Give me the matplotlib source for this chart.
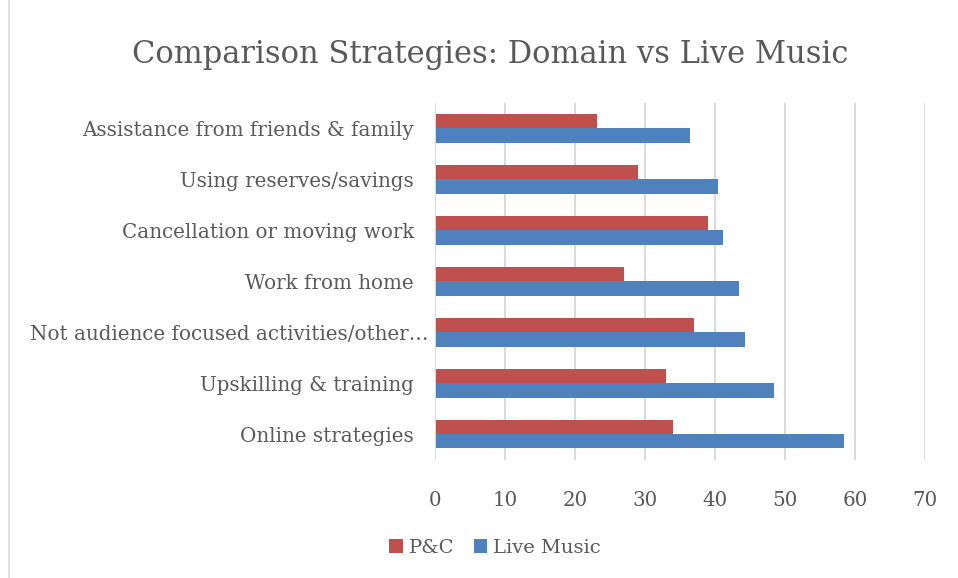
import numpy as np
import matplotlib
matplotlib.use("Agg")
import matplotlib.pyplot as plt
import matplotlib.transforms as mtransforms
from matplotlib.lines import Line2D

categories = [
    "Assistance from friends & family",
    "Using reserves/savings",
    "Cancellation or moving work",
    "Work from home",
    "Not audience focused activities/other\u2026",
    "Upskilling & training",
    "Online strategies",
]
pc_values = [23.1, 29.0, 39.0, 27.0, 37.0, 33.0, 34.0]
live_values = [36.45, 40.45, 41.2, 43.45, 44.3, 48.45, 58.45]
xticks = [0, 10, 20, 30, 40, 50, 60, 70]

text_color = "#595959"
plt.rcParams["font.family"] = ["DejaVu Serif"]

fig = plt.figure(figsize=(9.58, 5.78), dpi=100)
ax = fig.add_axes([0.4538, 0.2042, 0.9656 - 0.4538, 0.8218 - 0.2042])

y = np.arange(len(categories))
h = 0.275
ax.barh(y - h / 2, pc_values, height=h, color="#C0504D", label="P&C", zorder=3)
ax.barh(y + h / 2, live_values, height=h, color="#4F81BD", label="Live Music", zorder=3)

ax.set_xlim(0, 70)
ax.set_ylim(len(categories) - 0.5, -0.5)
ax.set_xticks(xticks)
ax.set_yticks(y)
ax.set_yticklabels(categories)
ax.grid(axis="x", color="#d9d9d9", linewidth=1.4, zorder=0)
for s in ax.spines.values():
    s.set_visible(False)
ax.axvline(0, color="#d9d9d9", linewidth=1.4, zorder=4)
ax.tick_params(axis="both", length=0, colors=text_color, labelsize=14.3)
ax.tick_params(axis="y", pad=15)
ax.tick_params(axis="x", pad=22)

# the truncated label runs closer to the axis, as in the original
lab = ax.get_yticklabels()[4]
lab.set_transform(lab.get_transform() + mtransforms.ScaledTranslation(15 / 100, 0, fig.dpi_scale_trans))

fig.text(0.512, 0.905, "Comparison Strategies: Domain vs Live Music",
         ha="center", va="center", fontsize=22, color=text_color)

fig.legend(loc="center", bbox_to_anchor=(0.517, 0.052), ncol=2, frameon=False,
           fontsize=14, labelcolor=text_color, handlelength=0.7, handleheight=0.7,
           handletextpad=0.3, columnspacing=1.0)

fig.add_artist(Line2D([0.0094, 0.0094], [0, 1], color="#d9d9d9", linewidth=1.2,
                      transform=fig.transFigure))

fig.savefig("out.png", dpi=100)
